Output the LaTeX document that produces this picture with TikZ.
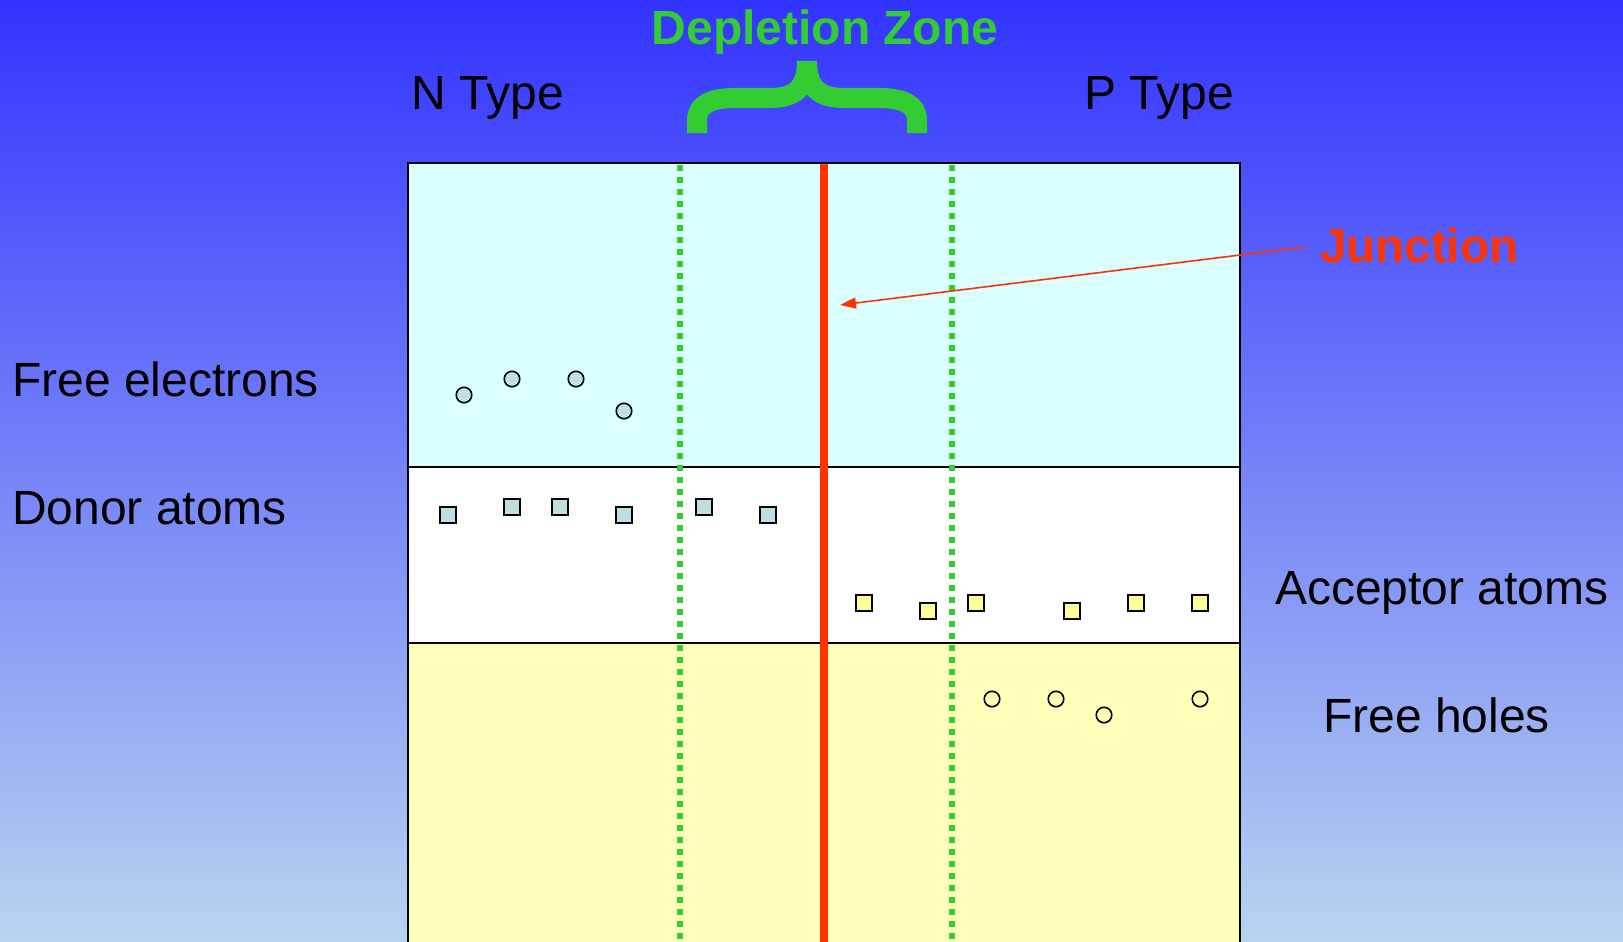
\documentclass[tikz,border=0pt]{standalone}
\usepackage{fontspec}
\setmainfont{Liberation Sans}
\usetikzlibrary{arrows.meta}
\definecolor{bgtop}{RGB}{51,51,255}
\definecolor{bgbot}{RGB}{184,212,240}
\definecolor{ncyan}{RGB}{219,255,255}
\definecolor{pyellow}{RGB}{255,255,187}
\definecolor{zgreen}{RGB}{51,204,51}
\definecolor{jred}{RGB}{255,51,0}
\definecolor{dfill}{RGB}{190,224,227}
\definecolor{afill}{RGB}{255,255,153}

\begin{document}
\begin{tikzpicture}[x=1pt, y=-1pt,
  lbl/.style={font=\fontsize{48}{56}\selectfont, inner sep=0pt, anchor=base west},
  electron/.style={circle, draw, line width=1.6pt, fill=dfill, minimum size=15.5pt, inner sep=0pt},
  donor/.style={rectangle, draw, line width=1.6pt, fill=dfill, minimum size=15.5pt, inner sep=0pt},
  acceptor/.style={donor, fill=afill},
  hole/.style={electron, fill=pyellow},
  zoneline/.style={zgreen, line width=6pt, dash pattern=on 6pt off 6pt},
  bracepart/.style={zgreen, line width=20pt}]
  \def\xL{408} \def\xR{1240} \def\yT{163} \def\yA{467} \def\yB{643} \def\yE{960}
  \useasboundingbox (0,0) rectangle (1623,942);
  \clip (0,0) rectangle (1623,942);
  \shade[top color=bgtop, bottom color=bgbot] (0,0) rectangle (1623,942);
  % the three bands of the crystal
  \fill[ncyan] (\xL,\yT) rectangle (\xR,\yA);
  \fill[white] (\xL,\yA) rectangle (\xR,\yB);
  \fill[pyellow] (\xL,\yB) rectangle (\xR,\yE);
  \draw[line width=1.5pt] (\xL,\yE) -- (\xL,\yT) -- (\xR,\yT) -- (\xR,\yE);
  \draw[line width=1.5pt] (\xL,\yA) -- (\xR,\yA);
  \draw[line width=1.5pt] (\xL,\yB) -- (\xR,\yB);
  \draw[zoneline] (680,\yT+2) -- (680,\yE);
  \draw[zoneline] (952,\yT+2) -- (952,\yE);
  \draw[jred, line width=8pt] (824,\yT+1) -- (824,\yE);
  % carriers and fixed ions
  \foreach \x/\y [count=\i] in {464/395, 512/379, 576/379, 624/411}
    \node[electron] (e\i) at (\x,\y) {};
  \foreach \x/\y [count=\i] in {448/515, 512/507, 560/507, 624/515, 704/507, 768/515}
    \node[donor] (d\i) at (\x,\y) {};
  \foreach \x/\y [count=\i] in {864/603, 928/611, 976/603, 1072/611, 1136/603, 1200/603}
    \node[acceptor] (a\i) at (\x,\y) {};
  \foreach \x/\y [count=\i] in {992/699, 1056/699, 1104/715, 1200/699}
    \node[hole] (h\i) at (\x,\y) {};
  % brace over the depletion zone
  \draw[bracepart] (697,133) -- (697,120) .. controls (697,104) and (712,98) .. (735,98)
    -- (770,98) .. controls (795,98) and (807,88) .. (807,61);
  \draw[bracepart] (917,133) -- (917,120) .. controls (917,104) and (902,98) .. (879,98)
    -- (844,98) .. controls (819,98) and (807,88) .. (807,61);
  \node[lbl, font=\fontsize{48}{56}\selectfont\bfseries, text=zgreen, anchor=base] (zone) at (825,45) {Depletion Zone};
  \node[lbl, anchor=base] (ntype) at (488,110) {N Type};
  \node[lbl, anchor=base] (ptype) at (1159,110) {P Type};
  \node[lbl] (freee) at (12,396) {Free electrons};
  \node[lbl] (donors) at (12,524) {Donor atoms};
  \node[lbl] (acceptors) at (1275,604) {Acceptor atoms};
  \node[lbl] (freeh) at (1323,732) {Free holes};
  \node[lbl, font=\fontsize{47.5}{56}\selectfont\bfseries, text=jred] (junc) at (1320,262) {Junction};
  \coordinate (jtip) at (840,305);
  \draw[jred, line width=1.6pt, -{Triangle[length=16pt, width=11pt]}, shorten <=16pt] (junc.west) -- (jtip);
\end{tikzpicture}
\end{document}
